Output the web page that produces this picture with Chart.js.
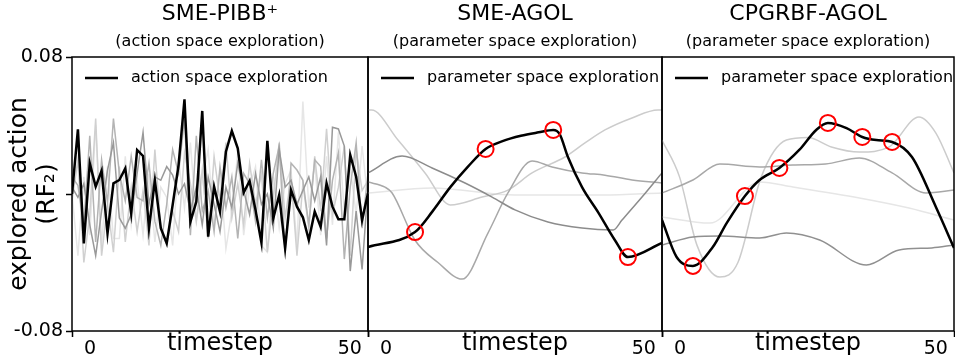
<!DOCTYPE html>
<html>
<head>
<meta charset="utf-8">
<script src="https://cdn.jsdelivr.net/npm/chart.js@4.4.1/dist/chart.umd.min.js"></script>
<style>
  body { margin: 0; background: #fff; }
  #wrap { position: relative; width: 955px; height: 364px; overflow: hidden; }
  canvas { position: absolute; top: 0; }
</style>
</head>
<body>
<div id="wrap">
  <canvas id="c1" width="370" height="364" style="left:0px"></canvas>
  <canvas id="c2" width="298" height="364" style="left:366px"></canvas>
  <canvas id="c3" width="295" height="364" style="left:660px"></canvas>
</div>
<script>
// -------------------------------------------- data
const xTicks = [0, 50];
const yTicks = [-0.08, 0, 0.08];

// panel 1: SME-PIBB+ (one value per timestep)
const steps = [0,1,2,3,4,5,6,7,8,9,10,11,12,13,14,15,16,17,18,19,20,21,22,23,24,25,26,27,28,29,30,31,32,33,34,35,36,37,38,39,40,41,42,43,44,45,46,47,48,49,50];
const pibbMain = [0.000,0.0378,-0.0288,0.0179,0.0043,0.0136,-0.0230,0.0062,0.0082,0.0150,-0.0113,0.0257,0.0222,-0.0200,0.0078,-0.0200,-0.0288,-0.0064,0.0169,0.0553,-0.0162,-0.0045,0.0485,-0.0249,0.0043,-0.0103,0.0247,0.0368,0.0267,0.0008,0.0076,-0.0093,-0.0284,0.0311,-0.0142,-0.0006,-0.0317,0.0023,-0.0074,-0.0136,-0.0269,-0.0103,-0.0191,0.0062,-0.0074,-0.0148,-0.0148,0.0228,0.0101,-0.0152,0.0004];
const pibbRun1 = [0.004,-0.002,0.006,-0.018,-0.036,-0.010,0.014,0.030,-0.014,-0.020,-0.012,0.012,0.036,-0.006,0.010,0.008,0.016,0.011,0.000,0.006,-0.010,0.004,-0.018,0.010,-0.006,-0.022,0.004,-0.008,0.018,0.002,-0.012,0.012,-0.006,0.000,-0.020,0.026,0.004,0.008,-0.006,0.002,0.010,-0.004,0.010,-0.030,0.039,0.038,0.028,-0.045,-0.010,-0.044,0.004];
const pibbRun2 = [0.010,0.005,-0.018,0.034,-0.028,0.020,-0.005,0.044,0.012,-0.004,0.022,-0.002,-0.004,0.018,-0.016,-0.030,-0.006,0.026,0.012,0.044,-0.024,0.034,-0.010,0.002,-0.022,0.016,-0.008,0.010,-0.026,0.012,0.006,-0.016,0.020,-0.014,0.012,0.028,-0.034,0.018,0.014,0.008,-0.018,0.020,0.016,-0.026,0.008,0.024,-0.038,0.004,0.030,-0.020,0.012];
const pibbRun3 = [-0.004,0.020,-0.040,-0.012,0.044,-0.036,-0.006,-0.034,0.016,-0.028,0.004,-0.022,0.002,-0.030,0.026,-0.020,-0.030,-0.010,-0.022,0.024,0.006,-0.016,0.014,-0.026,0.022,-0.004,0.030,-0.014,0.006,-0.018,0.018,-0.006,0.012,-0.034,-0.002,0.030,-0.014,0.010,-0.036,0.006,-0.020,0.022,-0.010,0.038,-0.012,0.004,0.028,-0.036,0.026,0.002,0.008];
const pibbRun4 = [0.000,-0.036,0.010,-0.024,0.040,-0.030,0.016,-0.026,-0.026,0.022,-0.018,0.008,-0.024,0.012,-0.028,0.004,-0.002,-0.030,0.020,-0.008,0.030,-0.016,0.008,0.026,-0.020,0.014,-0.032,-0.010,0.024,-0.024,0.004,0.016,-0.030,-0.034,0.010,-0.020,0.006,0.014,-0.030,0.054,-0.008,0.018,-0.024,0.022,-0.018,0.036,-0.010,0.016,-0.012,0.028,-0.004];

// panel 2: SME-AGOL (timestep, value pairs)
const agolMainT = [0, 8, 11, 14, 17, 20, 23, 26, 29, 31.5, 32.6, 34, 36.4, 39.2, 42, 44.2, 50];
const agolMainV = [-0.031, -0.0222, -0.010, 0.004, 0.016, 0.0263, 0.031, 0.034, 0.036, 0.0374, 0.035, 0.0216, 0.004, -0.011, -0.027, -0.0368, -0.0286];
const agolMarks = [1, 5, 9, 15];
const agolRunAT = [0, 0.6, 5.1, 9.7, 14, 19.4, 23.8, 27.9, 33.5, 36.9, 40.3, 44.9, 49.3, 50];
const agolRunAV = [0.049, 0.049, 0.0315, 0.0123, -0.0064, -0.0018, 0.0023, 0.0123, 0.0216, 0.0298, 0.0374, 0.0444, 0.049, 0.049];
const agolRunBT = [0, 2.9, 4.1, 8, 11.9, 16, 20.4, 23.8, 27.9, 31.3, 36.4, 40.3, 44.9, 50];
const agolRunBV = [0.007, 0.004, 0.0006, -0.027, -0.040, -0.0497, -0.0228, 0.0006, 0.0193, 0.0158, 0.0123, 0.011, 0.0082, 0.0064];
const agolRunCT = [0, 5.8, 10.9, 16.5, 21.1, 25, 30.6, 36.4, 41.7, 43.2, 46.6, 50];
const agolRunCV = [0.0123, 0.0222, 0.0152, 0.0064, -0.0018, -0.0093, -0.0164, -0.0199, -0.021, -0.0152, -0.0018, 0.0123];
const agolRunDT = [0, 10.9, 25, 40, 50];
const agolRunDV = [0.0006, 0.0035, -0.0006, -0.0006, 0.0006];

// panel 3: CPGRBF-AGOL
const cpgMainT = [0, 2.5, 5.3, 8.7, 11.1, 14.2, 16.7, 20.1, 23.5, 26.4, 28.4, 31.6, 34.3, 36.7, 39.4, 42.8, 46.9, 50];
const cpgMainV = [-0.0152, -0.0368, -0.042, -0.031, -0.0169, -0.0012, 0.0082, 0.0152, 0.0257, 0.0374, 0.0415, 0.0385, 0.0333, 0.0315, 0.0304, 0.0216, -0.0076, -0.0315];
const cpgMarks = [2, 5, 7, 10, 12, 14];
const cpgRunAT = [0, 3, 6, 9.9, 13, 17, 21.3, 25, 29, 33.8, 38.9, 44, 46.9, 50];
const cpgRunAV = [0.0315, 0.010, -0.030, -0.0485, -0.040, 0.010, 0.0315, 0.033, 0.0275, 0.0245, 0.0275, 0.045, 0.0356, 0.0123];
const cpgRunBT = [0, 5.3, 9.9, 16.7, 22.4, 28, 33.8, 39.4, 45.2, 50];
const cpgRunBV = [0.0006, 0.0082, 0.0175, 0.0158, 0.0169, 0.0175, 0.021, 0.0123, 0.0006, 0.0023];
const cpgRunCT = [0, 8.2, 16.7, 22.4, 33.8, 42.3, 50];
const cpgRunCV = [-0.0134, -0.017, 0.007, 0.0041, -0.0023, -0.0082, -0.0152];
const cpgRunDT = [0, 5.3, 10, 16.7, 21.3, 27, 35, 40.6, 46.2, 50];
const cpgRunDV = [-0.0298, -0.0251, -0.0245, -0.0257, -0.0228, -0.0269, -0.0415, -0.0327, -0.0315, -0.0298];

// -------------------------------------------- helpers
Chart.defaults.font.family = 'DejaVu Sans';
Chart.defaults.color = '#000';

function pairs(t, v) {
    return t.map((x, i) => ({x: x, y: v[i]}));
}

function grey(t, v, color, smooth) {
    return {
        data: pairs(t, v),
        borderColor: color,
        borderWidth: 1.5,
        pointRadius: 0,
        tension: 0,
        cubicInterpolationMode: smooth ? 'monotone' : 'default',
    };
}

function mainLine(label, t, v, marks) {
    return {
        label: label,
        data: pairs(t, v),
        borderColor: '#000',
        borderWidth: 2.5,
        tension: 0,
        cubicInterpolationMode: marks ? 'monotone' : 'default',
        pointRadius: (ctx) => marks && marks.includes(ctx.dataIndex) ? 8 : 0,
        pointHoverRadius: 0,
        pointBorderColor: '#ff0000',
        pointBackgroundColor: 'rgba(0,0,0,0)',
        pointBorderWidth: 2,
    };
}

// box round the plot area
const frame = {
    id: 'frame',
    afterDatasetsDraw(chart) {
        const a = chart.chartArea;
        const c = chart.ctx;
        c.save();
        c.strokeStyle = '#000';
        c.lineWidth = 1.5;
        c.strokeRect(a.left, a.top, a.right - a.left, a.bottom - a.top);
        c.restore();
    }
};

// legend inside the plot, top left, like the matplotlib one
const innerLegend = {
    id: 'innerLegend',
    afterDraw(chart) {
        const a = chart.chartArea;
        const c = chart.ctx;
        const ds = chart.data.datasets[0];
        const y = a.top + 21;
        c.save();
        c.strokeStyle = ds.borderColor;
        c.lineWidth = ds.borderWidth;
        c.beginPath();
        c.moveTo(a.left + 13, y);
        c.lineTo(a.left + 46, y);
        c.stroke();
        c.fillStyle = '#000';
        c.font = '16px "DejaVu Sans"';
        c.textBaseline = 'middle';
        c.fillText(ds.label, a.left + 59, y);
        c.restore();
    }
};

function panel(id, title, sub, datasets, showY, pad) {
    return new Chart(document.getElementById(id), {
        type: 'line',
        data: {datasets: datasets},
        plugins: [frame, innerLegend],
        options: {
            responsive: false,
            animation: false,
            events: [],
            layout: {padding: pad},
            plugins: {
                title: {
                    display: true,
                    text: title,
                    fullSize: false,
                    font: {size: 22, weight: 'normal'},
                    padding: {top: 1, bottom: 4},
                },
                subtitle: {
                    display: true,
                    text: sub,
                    fullSize: false,
                    color: '#000',
                    font: {size: 16},
                    padding: {top: 1, bottom: 5.4},
                },
                legend: {display: false},
                tooltip: {enabled: false},
            },
            scales: {
                x: {
                    type: 'linear',
                    min: 0,
                    max: 50,
                    afterBuildTicks: (s) => { s.ticks = xTicks.map((v) => ({value: v})); },
                    afterFit: (s) => { s.height = 33; },
                    grid: {drawOnChartArea: false, tickLength: 6, tickColor: '#000', tickWidth: 1.5},
                    border: {display: false},
                    ticks: {
                        align: 'inner',
                        padding: 1,
                        maxRotation: 0,
                        font: {size: 19},
                        callback: (v) => v === 0 ? '  0' : '50 ',
                    },
                    title: {display: true, text: 'timestep', font: {size: 24}, padding: {top: 0, bottom: 6}},
                },
                y: {
                    display: showY,
                    min: -0.08,
                    max: 0.08,
                    afterBuildTicks: (s) => { s.ticks = yTicks.map((v) => ({value: v})); },
                    afterFit: (s) => { if (showY) s.width = 72; },
                    grid: {drawOnChartArea: false, tickLength: 6, tickColor: '#000', tickWidth: 1.5},
                    border: {display: false},
                    ticks: {
                        padding: 3,
                        font: {size: 19},
                        callback: (v) => v === 0 ? '' : v.toFixed(2),
                    },
                    title: {
                        display: true,
                        text: ['explored action', '(RF\u2082)'],
                        font: {size: 25, lineHeight: 1.1},
                        padding: {top: 6, bottom: 0},
                    },
                },
            },
        },
    });
}

// -------------------------------------------- SME-PIBB+
panel('c1', 'SME-PIBB\u207A', '(action space exploration)', [
    mainLine('action space exploration', steps, pibbMain, null),
    grey(steps, pibbRun1, '#999999', false),
    grey(steps, pibbRun2, '#b4b4b4', false),
    grey(steps, pibbRun3, '#d0d0d0', false),
    grey(steps, pibbRun4, '#e6e6e6', false),
], true, {left: 0, right: 2, top: 0, bottom: 0});

// -------------------------------------------- SME-AGOL
panel('c2', 'SME-AGOL', '(parameter space exploration)', [
    mainLine('parameter space exploration', agolMainT, agolMainV, agolMarks),
    grey(agolRunCT, agolRunCV, '#8c8c8c', true),
    grey(agolRunBT, agolRunBV, '#a8a8a8', true),
    grey(agolRunAT, agolRunAV, '#cccccc', true),
    grey(agolRunDT, agolRunDV, '#e6e6e6', true),
], false, {left: 2, right: 2, top: 0, bottom: 0});

// -------------------------------------------- CPGRBF-AGOL
panel('c3', 'CPGRBF-AGOL', '(parameter space exploration)', [
    mainLine('parameter space exploration', cpgMainT, cpgMainV, cpgMarks),
    grey(cpgRunDT, cpgRunDV, '#909090', true),
    grey(cpgRunBT, cpgRunBV, '#a8a8a8', true),
    grey(cpgRunAT, cpgRunAV, '#cccccc', true),
    grey(cpgRunCT, cpgRunCV, '#e6e6e6', true),
], false, {left: 2, right: 0, top: 0, bottom: 0});
</script>
</body>
</html>
